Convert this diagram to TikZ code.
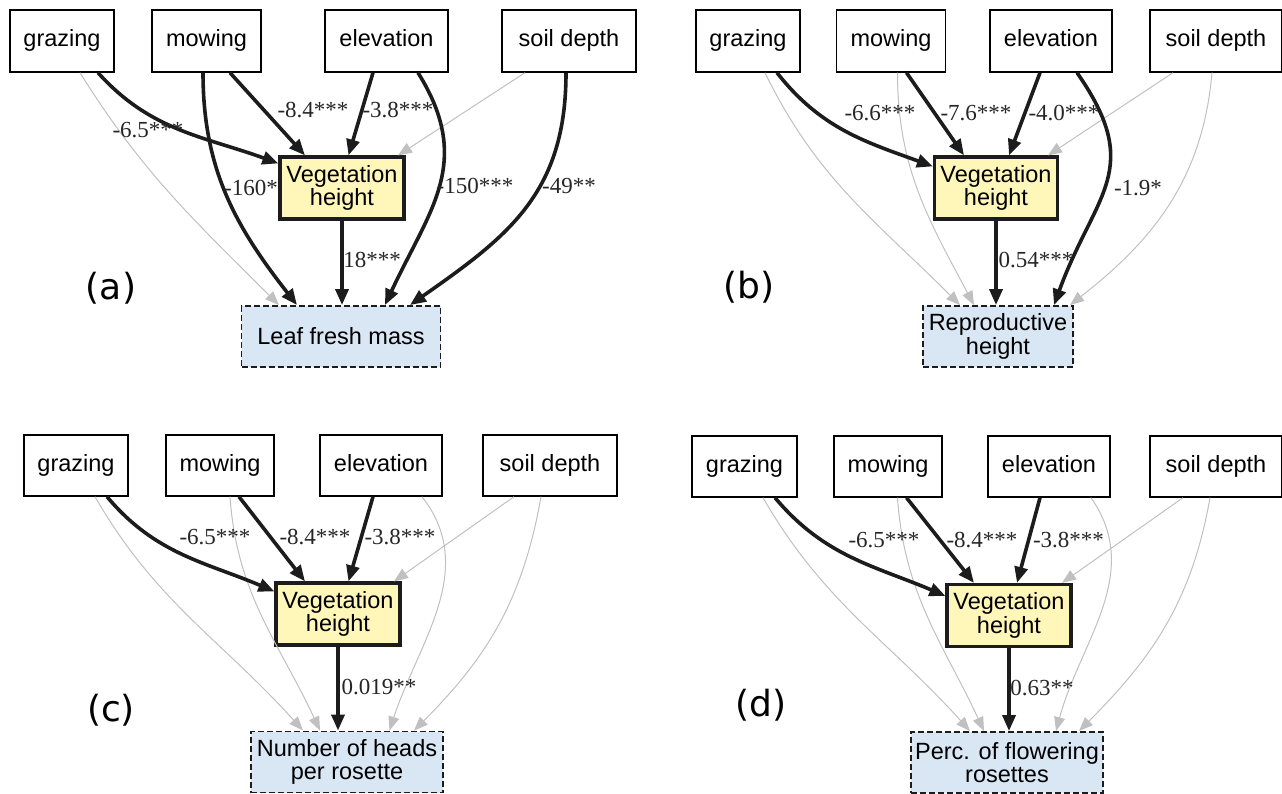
\documentclass[tikz,border=0pt]{standalone}
\usepackage{fontspec}
\setmainfont{Liberation Serif}
\setsansfont{Liberation Sans}
\newfontfamily\panelfont{DejaVu Sans}
\usetikzlibrary{arrows.meta}

\definecolor{vegfill}{RGB}{255,246,186}
\definecolor{respfill}{RGB}{217,230,244}
\definecolor{weakgrey}{RGB}{192,192,192}
\definecolor{pathblack}{RGB}{28,28,28}

\tikzset{
  boxfont/.style={font=\sffamily\fontsize{23.5}{23.5}\selectfont},
  driver/.style={boxfont, draw=black, line width=1.4pt, fill=white, inner sep=0pt, minimum height=62pt, text height=17pt, text depth=5pt},
  mediator/.style={boxfont, draw=pathblack, line width=3.2pt, fill=vegfill, align=center, inner sep=0pt, minimum width=124pt, minimum height=62pt},
  response/.style={boxfont, draw=pathblack, line width=1.9pt, dash pattern=on 6pt off 3pt, fill=respfill, align=center, inner sep=0pt, minimum height=61pt},
  strong/.style={draw=pathblack, line width=3.6pt, -{Triangle[length=16pt,width=13pt]}},
  weak/.style={draw=weakgrey, line width=1pt, -{Triangle[length=14pt,width=11pt]}},
  coef/.style={font=\fontsize{23}{23}\selectfont, text=black!85, inner sep=0pt},
  panel/.style={font=\panelfont\fontsize{36}{36}\selectfont, inner sep=0pt}
}

\begin{document}
\begin{tikzpicture}[x=1pt,y=1pt]
  \useasboundingbox (0,0) rectangle (1282,-794); % Размер всей картинки

  % Панель (a)
  \node[driver, minimum width=104pt] (aG) at (62,-41) {grazing};
  \node[driver, minimum width=109pt] (aM) at (206.5,-41) {mowing};
  \node[driver, minimum width=123pt] (aE) at (386.5,-41) {elevation};
  \node[driver, minimum width=134pt] (aS) at (569,-41) {soil depth};
  \node[mediator] (aV) at (342,-188) {Vegetation\\height};
  \node[response, minimum width=199pt] (aR) at (341,-336.5) {Leaf fresh mass};

  \draw[weak] ([xshift=18pt]aG.south) to[out=-58,in=135] ([xshift=-62pt]aR.north);
  \draw[weak] ([xshift=-44pt]aS.south) -- ([xshift=56pt]aV.north);
  \draw[strong] ([xshift=36pt]aG.south) to[out=-48,in=160] ([yshift=-8pt]aV.north west);
  \draw[strong] ([xshift=23.5pt]aM.south) -- ([xshift=-37pt]aV.north);
  \draw[strong] ([xshift=-13.5pt]aE.south) -- ([xshift=6.5pt]aV.north);
  \draw[strong] ([xshift=-3.5pt]aM.south) to[out=-90,in=128] ([xshift=-44pt]aR.north);
  \draw[strong] ([xshift=31.5pt]aE.south) to[out=-58,in=65,looseness=1.15] ([xshift=44pt]aR.north);
  \draw[strong] ([xshift=-3pt]aS.south) to[out=-90,in=35,looseness=1.1] ([xshift=69pt]aR.north);

  \node[coef] (aL1) at (148,-130) {-6.5***};
  \node[coef] (aL2) at (313,-110) {-8.4***};
  \node[coef] (aL3) at (398,-110) {-3.8***};
  \node[coef] (aL4) at (251,-188) {-160*};
  \node[coef] (aL5) at (475,-186) {-150***};
  \node[coef] (aL6) at (569,-186) {-49**};
  \node[coef] (aL7) at (372,-260) {18***};
  \node[panel] (aP) at (111,-288) {(a)};

  % Панель (b)
  \node[driver, minimum width=104pt] (bG) at (748,-41) {grazing};
  \node[driver, minimum width=109pt] (bM) at (891,-41) {mowing};
  \node[driver, minimum width=122pt] (bE) at (1051,-41) {elevation};
  \node[driver, minimum width=132pt] (bS) at (1216,-41) {soil depth};
  \node[mediator, minimum width=123pt] (bV) at (996,-188) {Vegetation\\height};
  \node[response, minimum width=150pt] (bR) at (998,-336.5) {Reproductive\\height};

  \draw[weak] ([xshift=17pt]bG.south) to[out=-64,in=135] ([xshift=-38pt]bR.north);
  \draw[weak] ([xshift=6.5pt]bM.south) to[out=-90,in=118] ([xshift=-24pt]bR.north);
  \draw[weak] ([xshift=-4pt]bS.south) to[out=-95,in=38] ([xshift=72pt]bR.north);
  \draw[weak] ([xshift=-43pt]bS.south) -- ([xshift=52pt]bV.north);
  \draw[strong] ([xshift=29pt]bG.south) to[out=-52,in=160] ([yshift=-11pt]bV.north west);
  \draw[strong] ([xshift=15.5pt]bM.south) -- ([xshift=-32pt]bV.north);
  \draw[strong] ([xshift=-11pt]bE.south) -- ([xshift=13pt]bV.north);
  \draw[strong] ([xshift=26pt]bE.south) to[out=-55,in=70,looseness=1.3] ([xshift=56pt]bR.north);

  \node[coef] (bL1) at (880,-113) {-6.6***};
  \node[coef] (bL2) at (976,-113) {-7.6***};
  \node[coef] (bL3) at (1064,-113) {-4.0***};
  \node[coef] (bL4) at (1138,-188) {-1.9*};
  \node[coef] (bL5) at (1036,-260) {0.54***};
  \node[panel] (bP) at (749,-287) {(b)};

  % Панель (c)
  \node[driver, minimum width=104pt, minimum height=61pt] (cG) at (76,-465.5) {grazing};
  \node[driver, minimum width=108pt, minimum height=61pt] (cM) at (220,-465.5) {mowing};
  \node[driver, minimum width=122pt, minimum height=61pt] (cE) at (381,-465.5) {elevation};
  \node[driver, minimum width=134pt, minimum height=61pt] (cS) at (550,-465.5) {soil depth};
  \node[mediator] (cV) at (338,-614) {Vegetation\\height};
  \node[response, minimum width=192pt] (cR) at (347,-762) {Number of heads\\per rosette};

  \draw[weak] ([xshift=19pt]cG.south) to[out=-60,in=132] ([xshift=-44pt]cR.north);
  \draw[weak] ([xshift=10pt]cM.south) to[out=-86,in=115] ([xshift=-27pt]cR.north);
  \draw[weak] ([xshift=41pt]cE.south) to[out=-52,in=72] ([xshift=42.5pt]cR.north);
  \draw[weak] ([xshift=-9pt]cS.south) to[out=-100,in=45] ([xshift=67pt]cR.north);
  \draw[weak] ([xshift=-36pt]cS.south) -- ([xshift=56pt]cV.north);
  \draw[strong] ([xshift=31pt]cG.south) to[out=-50,in=157] ([yshift=-10pt]cV.north west);
  \draw[strong] ([xshift=19pt]cM.south) -- ([xshift=-33pt]cV.north);
  \draw[strong] ([xshift=-8pt]cE.south) -- ([xshift=10.5pt]cV.north);

  \node[coef] (cL1) at (215,-537) {-6.5***};
  \node[coef] (cL2) at (315,-537) {-8.4***};
  \node[coef] (cL3) at (400,-537) {-3.8***};
  \node[coef] (cL4) at (379,-687) {0.019**};
  \node[panel] (cP) at (111,-710) {(c)};

  % Панель (d)
  \node[driver, minimum width=105pt, minimum height=61pt] (dG) at (744.5,-466.5) {grazing};
  \node[driver, minimum width=108pt, minimum height=61pt] (dM) at (888,-466.5) {mowing};
  \node[driver, minimum width=122pt, minimum height=61pt] (dE) at (1049,-466.5) {elevation};
  \node[driver, minimum width=132pt, minimum height=61pt] (dS) at (1216,-466.5) {soil depth};
  \node[mediator] (dV) at (1009,-615.5) {Vegetation\\height};
  \node[response, minimum width=192pt] (dR) at (1007,-762.5) {Perc. of flowering\\rosettes};

  \draw[weak] ([xshift=18.5pt]dG.south) to[out=-60,in=132] ([xshift=-37pt]dR.north);
  \draw[weak] ([xshift=9.5pt]dM.south) to[out=-86,in=115] ([xshift=-23pt]dR.north);
  \draw[weak] ([xshift=42pt]dE.south) to[out=-55,in=75] ([xshift=49pt]dR.north);
  \draw[weak] ([xshift=-6pt]dS.south) to[out=-100,in=45] ([xshift=72pt]dR.north);
  \draw[weak] ([xshift=-33pt]dS.south) -- ([xshift=53pt]dV.north);
  \draw[strong] ([xshift=30.5pt]dG.south) to[out=-50,in=157] ([yshift=-13pt]dV.north west);
  \draw[strong] ([xshift=18.5pt]dM.south) -- ([xshift=-35pt]dV.north);
  \draw[strong] ([xshift=-9pt]dE.south) -- ([xshift=8pt]dV.north);

  \node[coef] (dL1) at (884,-540) {-6.5***};
  \node[coef] (dL2) at (982,-540) {-8.4***};
  \node[coef] (dL3) at (1068.5,-540) {-3.8***};
  \node[coef] (dL4) at (1042,-688) {0.63**};
  \node[panel] (dP) at (761,-705) {(d)};

  % Стрелки от высоты растительности вниз
  \foreach \p in {a,b,c,d} {
    \draw[strong] (\p V.south) -- (\p V.south |- \p R.north);
  }
\end{tikzpicture}
\end{document}
